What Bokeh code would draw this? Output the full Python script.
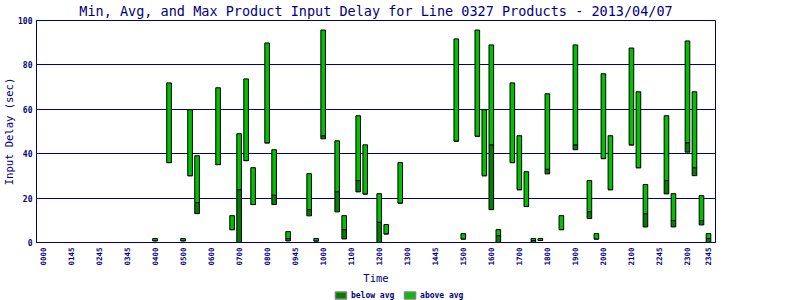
from bokeh.plotting import figure
from bokeh.models import Range1d, FixedTicker, ColumnDataSource
from bokeh.layouts import column
from bokeh.core.properties import value
from bokeh.embed import file_html
from bokeh.resources import INLINE
import math

times = ["04:00", "04:30", "05:00", "05:15", "05:30", "06:15", "06:45", "07:00", "07:15", "07:30",
         "08:00", "08:15", "08:45", "09:30", "09:45", "10:00", "10:30", "10:45", "11:15", "11:30",
         "12:00", "12:15", "12:45", "14:45", "15:00", "15:30", "15:45", "16:00", "16:15", "16:45",
         "17:00", "17:15", "17:30", "17:45", "18:00", "18:30", "19:00", "19:30", "19:45", "20:00",
         "20:15", "21:00", "21:15", "21:30", "22:15", "22:30", "23:00", "23:15", "23:30", "23:45"]
min_vals = [0.8, 36.0, 0.8, 30.1, 13.0, 35.1, 5.8, 0.0, 36.9, 17.1,
            44.9, 17.1, 0.7, 12.0, 0.7, 46.7, 13.8, 1.6, 22.8, 21.9,
            0.0, 3.9, 17.8, 45.7, 1.6, 47.9, 30.1, 14.8, 0.0, 36.0,
            23.8, 16.2, 0.0, 0.9, 30.9, 5.8, 41.8, 10.8, 1.6, 37.8,
            23.8, 44.0, 33.7, 7.0, 21.9, 7.0, 40.7, 30.1, 7.9, 0.0]
avg_vals = [0.8, 36.0, 0.8, 30.1, 18.0, 35.1, 5.8, 23.8, 36.9, 17.1,
            44.9, 21.3, 1.8, 14.8, 0.7, 48.1, 22.9, 5.8, 27.9, 21.9,
            9.1, 3.9, 17.8, 45.7, 1.6, 47.9, 30.1, 44.0, 3.1, 36.0,
            23.8, 16.2, 0.9, 0.9, 33.0, 5.8, 44.0, 13.9, 1.6, 37.8,
            23.8, 44.0, 33.7, 13.0, 27.9, 9.9, 44.9, 33.7, 9.9, 1.8]
max_vals = [1.8, 71.9, 1.8, 59.8, 39.1, 69.7, 12.1, 49.0, 73.7, 33.7,
            89.9, 41.8, 4.9, 31.0, 1.8, 95.7, 45.8, 12.1, 57.1, 44.0,
            22.0, 8.1, 36.0, 91.7, 4.0, 95.7, 59.8, 89.0, 5.8, 71.9,
            48.1, 31.9, 1.8, 1.8, 67.0, 12.1, 89.0, 27.9, 4.0, 76.0,
            48.1, 87.6, 67.9, 26.1, 57.1, 22.0, 90.8, 67.9, 21.1, 4.0]
tick_times = ["00:00", "01:00", "02:00", "03:00", "04:00", "05:00", "06:00", "07:00", "08:00",
              "09:00", "10:00", "11:00", "12:00", "13:00", "14:00", "15:00", "16:00", "17:00",
              "18:00", "19:00", "20:00", "21:00", "22:00", "23:00", "23:45"]
tick_labels = ["0000", "0145", "0245", "0345", "0400", "0500", "0600", "0700", "0800", "0945",
               "1000", "1100", "1200", "1300", "1445", "1500", "1600", "1700", "1800", "1900",
               "2000", "2100", "2245", "2300", "2345"]
y_ticks = [0, 20, 40, 60, 80, 100]
legend_labels = ["below avg", "above avg"]


def to_hours(t):
    h, m = t.split(":")
    return int(h) + int(m) / 60.0


hours = [to_hours(t) for t in times]
tick_hours = [to_hours(t) for t in tick_times]

NAVY = "#000080"
DARK = "#008000"
BRIGHT = "#00C000"
FONT = "DejaVu Sans Mono"

src = ColumnDataSource(dict(x=hours, lo=min_vals, avg=avg_vals, hi=max_vals))

p = figure(width=800, height=288, output_backend="svg", toolbar_location=None,
           x_range=Range1d(-0.23, 24.0), y_range=Range1d(0, 100),
           title="Min, Avg, and Max Product Input Delay for Line 0327 Products - 2013/04/07",
           min_border_left=36, min_border_right=85, min_border_top=20, min_border_bottom=46,
           background_fill_color="white", border_fill_color="white")

p.title.text_font = FONT
p.title.text_font_size = "13.5px"
p.title.text_font_style = "normal"
p.title.text_color = NAVY
p.title.align = "center"
p.title.standoff = 0
p.title.vertical_align = "top"

p.outline_line_color = NAVY
p.outline_line_width = 1

p.vbar(x="x", bottom="lo", top="avg", width=0.165, source=src,
       fill_color=DARK, line_color="black", line_width=1)
p.vbar(x="x", bottom="avg", top="hi", width=0.165, source=src,
       fill_color=BRIGHT, line_color="black", line_width=1)

p.xgrid.grid_line_color = None
p.ygrid.grid_line_color = NAVY
p.ygrid.grid_line_width = 1
p.ygrid.ticker = FixedTicker(ticks=y_ticks)

p.xaxis.ticker = FixedTicker(ticks=tick_hours)
p.xaxis.major_label_overrides = {h: lab for h, lab in zip(tick_hours, tick_labels)}
p.xaxis.major_label_orientation = math.pi / 2
p.xaxis.axis_label = "Time"

p.yaxis.ticker = FixedTicker(ticks=y_ticks)
p.yaxis.axis_label = "Input Delay (sec)"

for ax in (p.xaxis[0], p.yaxis[0]):
    ax.axis_line_color = NAVY
    ax.axis_line_width = 1
    ax.major_tick_in = 0
    ax.major_tick_out = 0
    ax.minor_tick_line_color = None
    ax.major_label_text_color = NAVY
    ax.major_label_text_font = FONT
    ax.major_label_text_font_style = "bold"
    ax.major_label_standoff = 5
    ax.axis_label_text_color = NAVY
    ax.axis_label_text_font = FONT
    ax.axis_label_text_font_style = "normal"
    ax.axis_label_text_font_size = "10.5px"
    ax.axis_label_standoff = 3

p.yaxis.major_label_standoff = 4
p.yaxis.axis_label_standoff = 0
p.xaxis.major_label_text_font_size = "7.5px"
p.yaxis.major_label_text_font_size = "8px"

# legend strip: its frame is aligned with the main frame, so the x range
# spans that frame's page pixels (1 unit = 1 px)
lg = figure(width=800, height=12, output_backend="svg", toolbar_location=None,
            x_range=Range1d(37, 715), y_range=Range1d(0, 12),
            x_axis_type=None, y_axis_type=None,
            min_border_left=0, min_border_right=0, min_border_top=0, min_border_bottom=0,
            outline_line_color=None, background_fill_color="white",
            border_fill_color="white")
lg.xgrid.grid_line_color = None
lg.ygrid.grid_line_color = None
leg_src = ColumnDataSource(dict(sx=[341, 410], tx=[351, 420], y=[5, 5],
                                color=[DARK, BRIGHT], label=legend_labels))
lg.rect(x="sx", y="y", width=11, height=7, source=leg_src, fill_color="color",
        line_color="#808080", line_width=1.5)
lg.text(x="tx", y="y", text="label", source=leg_src, text_font=value(FONT),
        text_font_size="8px", text_font_style="bold", text_color=NAVY,
        text_baseline="middle", text_align="left")

layout = column(p, lg, spacing=0)
open("out.html", "w").write(file_html(layout, INLINE))
